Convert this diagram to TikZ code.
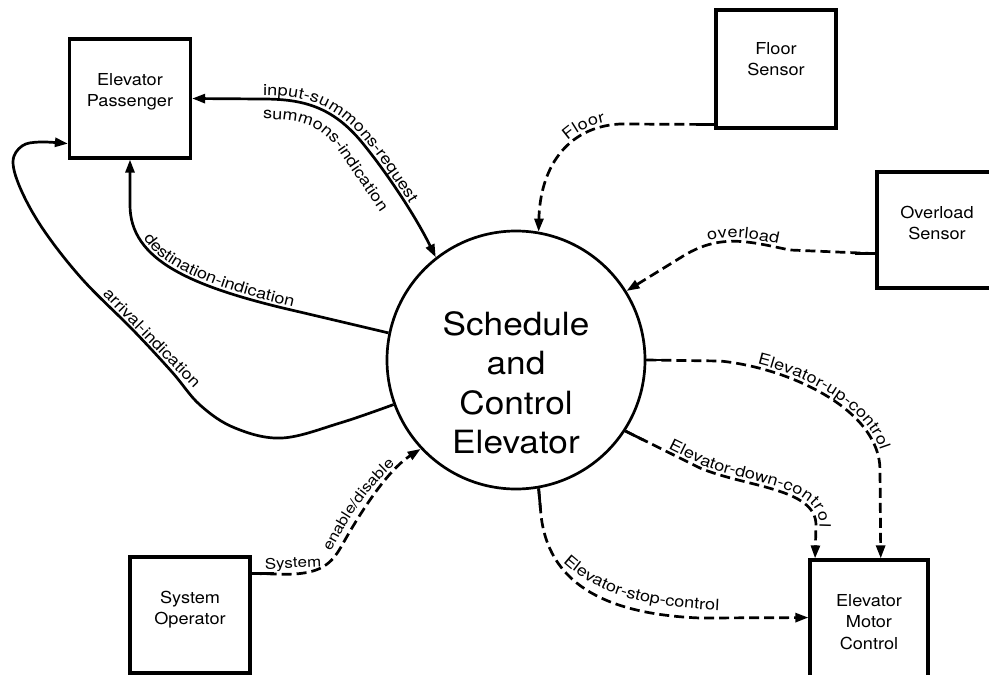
\documentclass[tikz,border=0pt]{standalone}
\usepackage{fontspec}
\setmainfont[FakeStretch=1.1]{TeX Gyre Heros}
\newfontfamily\lblfam[FakeStretch=1.16]{TeX Gyre Heros}
\usetikzlibrary{arrows.meta,decorations.text,calc}
\newcommand\lblf{\lblfam\fontsize{15.6}{18}\selectfont}
\newcommand\lblfs{\lblfam\fontsize{14.6}{17}\selectfont}
\newcommand\bxt[2]{\raisebox{#1}[0pt][0pt]{\begin{tabular}[t]{@{}c@{}}#2\end{tabular}}}
\begin{document}
\begin{tikzpicture}[x=1pt,y=-1pt,
  box/.style={draw, line width=3.2pt, inner sep=0pt, font=\fontsize{16.5}{21.5}\selectfont},
  flow/.style={line width=2.7pt},
  dflow/.style={line width=2.7pt, dash pattern=on 10pt off 5pt},
  tip/.style={-{Triangle[length=13pt,width=9pt]}},
  dtip/.style={{Triangle[length=13pt,width=9pt]}-{Triangle[length=13pt,width=9pt]}},
  lab/.style n args={3}{decorate, decoration={text along path, text={|\lblf|#1}, raise=#2, text align={left indent=#3}}},
  labs/.style n args={3}{decorate, decoration={text along path, text={|\lblfs|#1}, raise=#2, text align={left indent=#3}}},
  labr/.style n args={3}{decorate, decoration={text along path, text={|\lblf|#1}, raise=#2, text align={right, right indent=#3}}},
]
\useasboundingbox (0,0) rectangle (989,675);
\fill[white] (0,0) rectangle (989,675);

% central process
\node[draw, circle, line width=2.7pt, minimum size=258pt, inner sep=0pt,
      font=\fontsize{32}{39.5}\selectfont] (sc) at (516,360)
      {\bxt{25pt}{Schedule\\and\\Control\\Elevator}};

% terminators
\node[box, minimum width=121pt, minimum height=119pt] (ep) at (130,98.5) {\bxt{13.5pt}{Elevator\\Passenger}};
\node[box, minimum width=120pt, minimum height=118pt] (fs) at (776,69) {\bxt{15pt}{Floor\\Sensor}};
\node[box, minimum width=120pt, minimum height=116pt] (os) at (937,230) {\bxt{12pt}{Overload\\Sensor}};
\node[box, minimum width=118pt, minimum height=130pt] (emc) at (869,625) {\bxt{19pt}{Elevator\\Motor\\Control}};
\node[box, minimum width=120pt, minimum height=116pt] (so) at (190,615) {\bxt{12pt}{System\\Operator}};

% input-summons-request / summons-indication
\coordinate (is1) at (262,99);
\coordinate (is2) at (360,140);
\draw[flow, dtip] (ep.east) -- (is1) .. controls (300,99) and (330,105) .. (is2) .. controls (385,170) and (415,215) .. (sc.128);
\path[lab={input-summons-request}{3.5pt}{1pt}] (is1) .. controls (300,99) and (330,105) .. (is2) .. controls (385,170) and (415,215) .. (sc.128);
\path[lab={summons-indication}{0pt}{0pt}] (263,119) .. controls (298,119) and (315,123) .. (333,143) -- (385,219);

% destination-indication
\coordinate (de1) at (300,312);
\coordinate (de2) at (130,205);
\draw[flow, tip] (sc.168) -- (de1) .. controls (190,287) and (130,260) .. (de2) -- (ep.south);
\path[lab={destination-indication}{3.5pt}{38pt}] (de2) .. controls (130,260) and (190,287) .. (de1) -- (sc.168);

% arrival-indication
\draw[flow, tip] plot[smooth, tension=0.6] coordinates {(sc.200) (340,423) (282,438) (235,428) (200,405) (172,372) (133,330) (83,280) (45,232) (22,192) (13,162) (22,146) (40,142) (ep.216)};
\path[lab={arrival-indication}{3.5pt}{24pt}] (83,280) -- (203,403);

% Floor
\coordinate (fl1) at (620,124);
\draw[dflow, tip] (fs.222) -- (fl1) .. controls (565,127) and (540,170) .. (sc.80);
\draw[flow] (fs.222) -- ++(-18,0);
\path[labr={Floor}{3.5pt}{14pt}] (sc.80) .. controls (540,170) and (565,127) .. (fl1);

% overload
\coordinate (ov1) at (790,250);
\coordinate (ov2) at (680,258);
\draw[dflow, tip] (os.201) -- (ov1) .. controls (750,242) and (720,232) .. (ov2) -- (sc.32);
\draw[flow] (os.201) -- ++(-20,0);
\path[lab={overload}{3.5pt}{32pt}] (ov2) .. controls (720,232) and (750,242) .. (ov1) -- (os.201);

% Elevator-up-control
\coordinate (up1) at (720,361);
\coordinate (up2) at (880,470);
\draw[dflow, tip] (sc.east) -- (up1) .. controls (790,368) and (880,410) .. (up2) -- (emc.80);
\draw[flow] (sc.east) -- ++(22,0);
\path[lab={Elevator-up-control}{3.5pt}{37pt}] (up1) .. controls (790,368) and (880,410) .. (up2) -- (emc.80);

% Elevator-down-control
\coordinate (dn1) at (700,468);
\coordinate (dn2) at (816,525);
\draw[dflow, tip] (sc.327) -- (dn1) .. controls (745,487) and (816,488) .. (dn2) -- (emc.129);
\draw[flow] (sc.327) -- ($(sc.327)!20pt!(dn1)$);
\path[lab={Elevator-down-control}{3.5pt}{46pt}] (sc.327) -- (dn1) .. controls (745,487) and (816,488) .. (dn2) -- (emc.129);

% Elevator-stop-control
\coordinate (st1) at (541,515);
\coordinate (st2) at (700,618);
\draw[dflow, tip] (sc.280) -- (st1) .. controls (548,580) and (600,614) .. (st2) -- (emc.173);
\draw[flow] (sc.280) -- ($(sc.280)!22pt!(st1)$);
\path[lab={Elevator-stop-control}{0pt}{0pt}] (563,562) .. controls (594,590) and (632,608) .. (735,611);

% System enable/disable
\coordinate (sy1) at (275,574);
\coordinate (sy2) at (341,547);
\draw[dflow, tip] (so.34) -- (sy1) .. controls (318,576) and (330,566) .. (sy2) .. controls (356,520) and (385,472) .. (sc.223);
\draw[flow] (so.34) -- ++(22,0);
\path[labs={System}{0pt}{0pt}] (265,569) -- (330,566);
\path[labs={enable/disable}{0pt}{0pt}] (331,552) .. controls (347,520) and (375,474) .. (418,447);
\end{tikzpicture}
\end{document}
